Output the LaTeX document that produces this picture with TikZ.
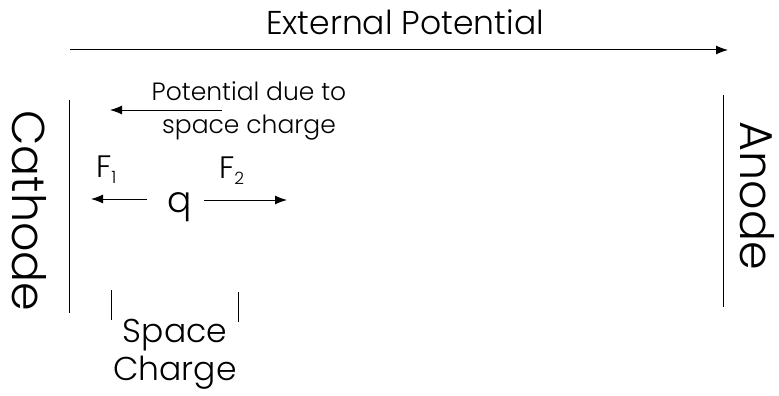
\documentclass[tikz,border=0pt]{standalone}
\usepackage{fontspec}
\setmainfont{Poppins}[UprightFont=* Light]
\usetikzlibrary{arrows.meta}
\begin{document}
\begin{tikzpicture}[x=1pt,y=-1pt,
  lbl/.style={inner sep=0pt, font=#1},
  plate/.style={line width=1pt},
  arr/.style={line width=1pt,-{Latex[length=12pt,width=9pt]}}]
\useasboundingbox (0,0) rectangle (779,396);
\node[lbl=\fontsize{33}{36}\selectfont, anchor=base] (ext) at (405,35) {External Potential};
\coordinate (e1) at (70,50);
\coordinate (e2) at (728,50);
\draw[arr] (e1) -- (e2);
\coordinate (c1) at (69,100);
\coordinate (c2) at (69,313);
\draw[plate] (c1) -- (c2);
\coordinate (a1) at (723,95);
\coordinate (a2) at (723,307);
\draw[plate] (a1) -- (a2);
\node[lbl=\fontsize{46}{48}\selectfont, rotate=-90] (cath) at (29,211) {Cathode};
\node[lbl=\fontsize{46}{48}\selectfont, rotate=-90] (anode) at (757,196) {Anode};
\node[lbl=\fontsize{25}{33}\selectfont, anchor=base] (pot1) at (249,100) {Potential due to};
\node[lbl=\fontsize{25}{33}\selectfont, anchor=base] (pot2) at (249,133) {space charge};
\coordinate (p1) at (222,110);
\coordinate (p2) at (110,110);
\draw[arr] (p1) -- (p2);
\node[lbl=\fontsize{36}{38}\selectfont, anchor=base] (q) at (180,212) {q};
\node[lbl=\fontsize{31}{33}\selectfont, anchor=base west] (f1) at (96,177) {F\raisebox{-6pt}{\fontsize{17}{18}\selectfont 1}};
\node[lbl=\fontsize{31}{33}\selectfont, anchor=base west] (f2) at (219,178) {F\raisebox{-6pt}{\fontsize{17}{18}\selectfont 2}};
\coordinate (l1) at (147,199);
\coordinate (l2) at (91,199);
\draw[arr] (l1) -- (l2);
\coordinate (r1) at (204,200);
\coordinate (r2) at (287,200);
\draw[arr] (r1) -- (r2);
\coordinate (t1a) at (111,290);
\coordinate (t1b) at (111,320);
\coordinate (t2a) at (238,292);
\coordinate (t2b) at (238,322);
\draw[plate] (t1a) -- (t1b);
\draw[plate] (t2a) -- (t2b);
\node[lbl=\fontsize{33}{36}\selectfont, anchor=base] (sc1) at (175,342) {Space};
\node[lbl=\fontsize{33}{36}\selectfont, anchor=base] (sc2) at (175,380) {Charge};
\end{tikzpicture}
\end{document}
